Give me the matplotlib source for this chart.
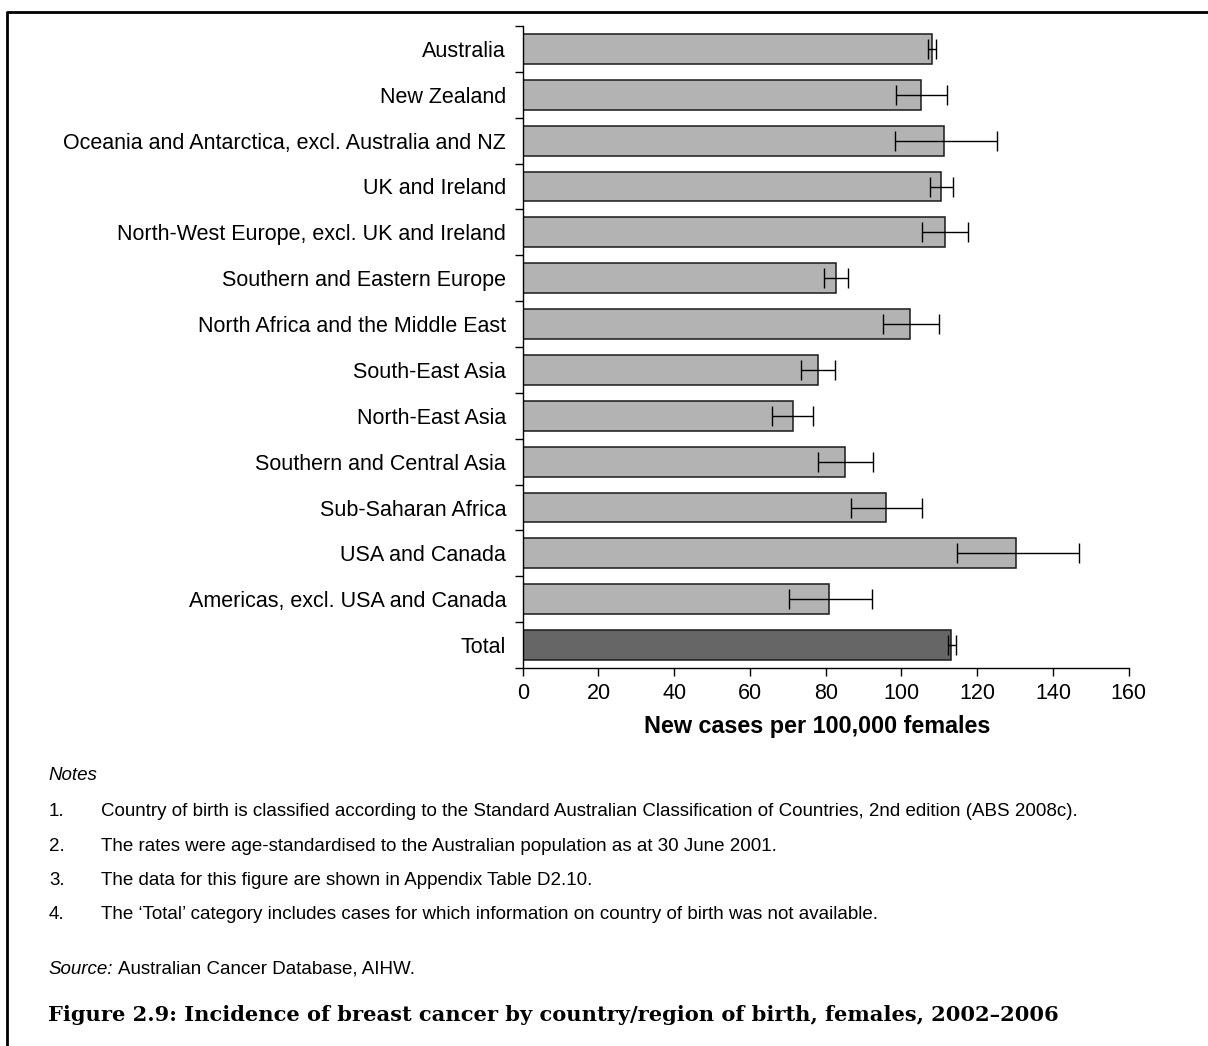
import numpy as np
import matplotlib
matplotlib.use("Agg")
import matplotlib.pyplot as plt
from matplotlib.lines import Line2D

plt.rcParams['font.family'] = ['Liberation Sans', 'DejaVu Sans']

# Incidence by country/region of birth (rate and 95% CI bounds)
regions = [
    "Australia",
    "New Zealand",
    "Oceania and Antarctica, excl. Australia and NZ",
    "UK and Ireland",
    "North-West Europe, excl. UK and Ireland",
    "Southern and Eastern Europe",
    "North Africa and the Middle East",
    "South-East Asia",
    "North-East Asia",
    "Southern and Central Asia",
    "Sub-Saharan Africa",
    "USA and Canada",
    "Americas, excl. USA and Canada",
    "Total",
]
rates = [108.1, 105.1, 111.2, 110.5, 111.4, 82.7, 102.3, 77.9, 71.3, 85.1, 95.8, 130.2, 80.9, 113.2]
ci_low = [107.1, 98.6, 98.4, 107.6, 105.3, 79.6, 95.0, 73.4, 65.9, 77.9, 86.8, 114.7, 70.4, 112.2]
ci_high = [109.2, 111.9, 125.2, 113.5, 117.5, 85.8, 109.8, 82.5, 76.7, 92.6, 105.5, 147.0, 92.2, 114.3]
x_ticks = [0, 20, 40, 60, 80, 100, 120, 140, 160]

notes = [
    "Country of birth is classified according to the Standard Australian Classification of Countries, 2nd edition (ABS 2008c).",
    "The rates were age-standardised to the Australian population as at 30 June 2001.",
    "The data for this figure are shown in Appendix Table D2.10.",
    "The \u2018Total\u2019 category includes cases for which information on country of birth was not available.",
]

W, H = 1208, 1046
fig = plt.figure(figsize=(W / 100, H / 100), dpi=100)
ax = fig.add_axes([522.7 / W, 1 - 668 / H, 606 / W, 642 / H])

rates = np.array(rates)
pos = np.arange(len(regions))
colors = ["#b3b3b3"] * (len(regions) - 1) + ["#666666"]
ax.barh(pos, rates, height=0.65, color=colors, edgecolor="#1a1a1a", linewidth=1.1, zorder=2)
xerr = [rates - np.array(ci_low), np.array(ci_high) - rates]
ax.errorbar(rates, pos, xerr=xerr, fmt="none", ecolor="black", elinewidth=1.0,
            capsize=7.2, capthick=1.0, zorder=3)

ax.set_xlim(0, 160)
ax.set_ylim(len(regions) - 0.5, -0.5)
ax.set_xticks(x_ticks)
ax.set_xticklabels([str(t) for t in x_ticks], fontsize=15.5)
ax.tick_params(axis="x", direction="out", length=5.5, width=1, pad=5.5)

# boundary ticks on the y axis, labels sit at the bar centres
ax.set_yticks(np.arange(len(regions) + 1) - 0.5)
ax.set_yticklabels([])
ax.set_yticks(pos, minor=True)
ax.set_yticklabels(regions, minor=True, fontsize=15.5)
ax.tick_params(axis="y", which="major", direction="out", length=5.8, width=1)
ax.tick_params(axis="y", which="minor", length=0, pad=12)

for s in ["top", "right"]:
    ax.spines[s].set_visible(False)
for s in ["left", "bottom"]:
    ax.spines[s].set_linewidth(1)

fig.text(817 / W, 1 - 727 / H, "New cases per 100,000 females", fontsize=16.8,
         fontweight="bold", ha="center", va="center")

# notes block
fig.text(48 / W, 1 - 775 / H, "Notes", fontsize=13.5, style="italic", va="center")
for i, line in enumerate(notes):
    y = 1 - (812 + 34.3 * i) / H
    fig.text(49 / W, y, f"{i + 1}.", fontsize=13.5, va="center")
    fig.text(101 / W, y, line, fontsize=13.5, va="center")

src = fig.text(48 / W, 1 - 969 / H, "Source:", fontsize=13.5, style="italic", va="center")
ax.annotate("Australian Cancer Database, AIHW.", xy=(1, 0.5), xycoords=src,
            xytext=(4, 0), textcoords="offset points", fontsize=13.5,
            va="center", annotation_clip=False)

fig.text(48 / W, 1 - 1015 / H,
         "Figure 2.9: Incidence of breast cancer by country/region of birth, females, 2002\u20132006",
         fontsize=15.1, fontweight="bold", family=["DejaVu Serif"], va="center")

# page frame (top and left edges)
fig.add_artist(Line2D([7 / W, 7 / W, 1], [0, 1 - 12 / H, 1 - 12 / H],
                      transform=fig.transFigure, color="black", linewidth=2))

fig.savefig("out.png", dpi=100)
